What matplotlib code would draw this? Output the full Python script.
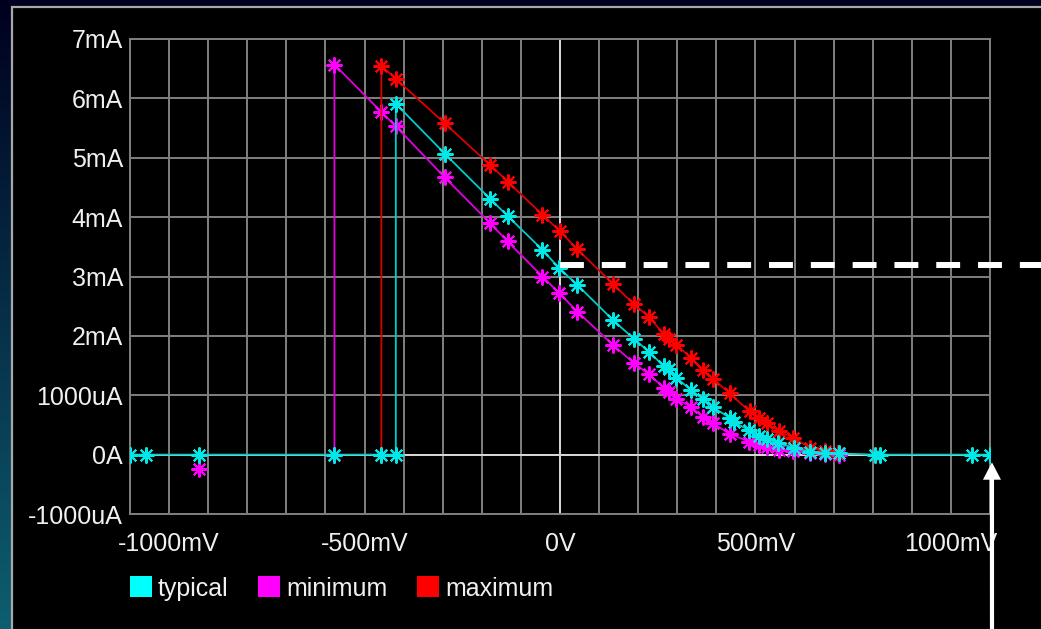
import numpy as np
import matplotlib
matplotlib.use("Agg")
from matplotlib import pyplot as plt
from matplotlib.patches import Rectangle
import matplotlib.ticker as mticker

plt.rcParams['font.family'] = ['Liberation Sans', 'DejaVu Sans']

# I/V tables, mV vs mA
typ_v = [-1100, -1059, -924, -577, -457, -420, -420, -295, -179, -134, -45, -2, 44, 135,
         189, 228, 265, 278, 298, 335, 365, 391, 434, 444, 484, 510, 529, 557, 599, 640,
         678, 713, 805, 819, 1054, 1100]
typ_i = [0, 0, 0, 0, 0, 0, 5.91, 5.07, 4.31, 4.02, 3.45, 3.14, 2.86, 2.27,
         1.95, 1.73, 1.49, 1.44, 1.29, 1.09, 0.94, 0.80, 0.62, 0.55, 0.41, 0.31, 0.26, 0.20, 0.11, 0.05,
         0.03, 0.02, 0, 0, 0, 0]

min_v = [-577, -577, -457, -420, -295, -179, -134, -45, -2, 44, 135, 189, 228, 265,
         278, 298, 335, 365, 391, 434, 484, 508, 529, 559, 597, 640, 678, 714]
min_i = [0, 6.57, 5.77, 5.53, 4.67, 3.90, 3.59, 3.00, 2.72, 2.41, 1.85, 1.54, 1.35, 1.13,
         1.05, 0.94, 0.80, 0.64, 0.53, 0.35, 0.22, 0.17, 0.13, 0.08, 0.06, 0.03, 0.01, 0]
min_lone_v = [-924]
min_lone_i = [-0.24]

max_v = [-457, -457, -420, -295, -179, -134, -45, 0, 44, 135, 189, 228, 265, 278,
         298, 335, 365, 391, 434, 485, 508, 529, 559, 597, 640, 678, 712]
max_i = [0, 6.55, 6.33, 5.58, 4.88, 4.60, 4.04, 3.76, 3.46, 2.88, 2.53, 2.32, 2.03, 1.95,
         1.85, 1.63, 1.42, 1.28, 1.03, 0.73, 0.62, 0.53, 0.40, 0.28, 0.12, 0.06, 0.02]

marker_level = 3.2  # mA, dashed marker line

x_ticks = [-1000, -500, 0, 500, 1000]
x_labels = ['-1000mV', '-500mV', '0V', '500mV', '1000mV']
y_ticks = [-1, 0, 1, 2, 3, 4, 5, 6, 7]
y_labels = ['-1000uA', '0A', '1000uA', '2mA', '3mA', '4mA', '5mA', '6mA', '7mA']

names = ['typical', 'minimum', 'maximum']
key_colors = ['#00ffff', '#ff00ff', '#ff0000']

W, H = 1041, 629
def fx(x):
    return x / W
def fy(y):
    return 1 - y / H

fig = plt.figure(figsize=(W / 100, H / 100), dpi=100)

# gradient backdrop
bg = fig.add_axes([0, 0, 1, 1], zorder=-10)
t = np.linspace(0, 1, 256)[:, None]
top = np.array([0.0, 0.0, 0.12])
bot = np.array([0.05, 0.37, 0.44])
grad = top + (bot - top) * t[..., None]
grad = np.repeat(grad, 4, axis=1)
bg.imshow(grad, aspect='auto', extent=[0, 1, 0, 1])
bg.set_axis_off()

# black panel with grey rim
fig.patches.append(Rectangle((fx(12), fy(H + 20)), fx(W + 40), fy(7) - fy(H + 20),
                             transform=fig.transFigure, facecolor='black',
                             edgecolor='#a8a8a8', lw=1.6, zorder=-5))

ax = fig.add_axes([fx(130), fy(514), fx(990) - fx(130), fy(39) - fy(514)])
ax.set_facecolor('black')
ax.set_xlim(-1100, 1100)
ax.set_ylim(-1, 7)

ax.set_xticks(x_ticks)
ax.set_xticklabels(x_labels)
ax.xaxis.set_minor_locator(mticker.MultipleLocator(100))
ax.set_yticks(y_ticks)
ax.set_yticklabels(y_labels)
ax.tick_params(which='both', length=0, colors='#f0f0f0', labelsize=18)
ax.tick_params(axis='x', pad=13)
ax.tick_params(axis='y', pad=5)
ax.grid(True, which='both', color='#808080', lw=1.4)
ax.set_axisbelow(True)
for s in ax.spines.values():
    s.set_color('#808080')
    s.set_linewidth(1.4)
ax.axvline(0, color='#d8d8d8', lw=1.4, zorder=1)
ax.axhline(0, color='#d8d8d8', lw=1.4, zorder=1)

mk = dict(marker=(8, 2, 0), markersize=11.5, markeredgewidth=1.5)
ax.plot(min_v, min_i, color='#e000e0', lw=1.3, mec='#ff00ff', zorder=3, **mk)
ax.plot(min_lone_v, min_lone_i, ls='none', mec='#ff00ff', zorder=3, **mk)
ax.plot(max_v, max_i, color='#dd0000', lw=1.3, mec='#ff0000', zorder=4, **mk)
ax.plot(typ_v, typ_i, color='#00cccc', lw=1.3, mec='#00e8e8', zorder=5, **mk)

# dashed marker running off to the right edge
ax.plot([0, 1600], [marker_level, marker_level], color='white', lw=4.3,
        dashes=(4, 3), clip_on=False, zorder=6)

ax.annotate('', xy=(1105, -0.13), xytext=(992, -10), textcoords='figure pixels',
            arrowprops=dict(facecolor='white', edgecolor='none', width=3,
                            headwidth=13, headlength=12.5, shrink=0),
            annotation_clip=False, zorder=7)

legend_x = [130, 258, 417]
for name, c, x0 in zip(names, key_colors, legend_x):
    fig.patches.append(Rectangle((fx(x0), fy(597)), fx(22), fy(576) - fy(597),
                                 transform=fig.transFigure, facecolor=c, edgecolor='none'))
    fig.text(fx(x0 + 28), fy(596), name, color='#f0f0f0', fontsize=18, va='baseline')

plt.savefig('out.png', dpi=100, facecolor=fig.get_facecolor())
